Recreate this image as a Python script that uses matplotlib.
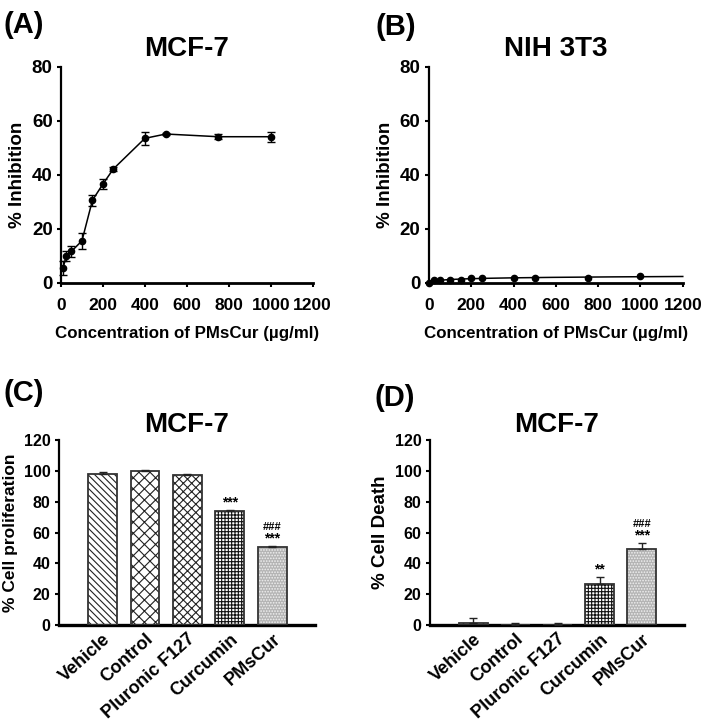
import numpy as np
import matplotlib
matplotlib.use('Agg')
from matplotlib import pyplot as plt

plt.rcParams['font.family'] = ['Liberation Sans', 'DejaVu Sans']
plt.rcParams['font.weight'] = 'bold'
plt.rcParams['hatch.linewidth'] = 0.8

# panel A / B data: dose response
conc_a = [10, 25, 50, 100, 150, 200, 250, 400, 500, 750, 1000]
inhib_a = [5.5, 10.0, 11.7, 15.6, 30.6, 36.6, 42.2, 53.5, 55.1, 54.1, 54.1]
err_a = [2.5, 2.0, 2.0, 3.0, 2.0, 2.0, 0.7, 2.3, 0.5, 1.0, 1.8]

conc_b = [0, 25, 50, 100, 150, 200, 250, 400, 500, 750, 1000]
inhib_b = [0.0, 1.0, 1.0, 1.0, 1.0, 1.7, 1.7, 2.0, 2.0, 2.0, 2.7]

# panel C / D data: treatments
groups = ['Vehicle', 'Control', 'Pluronic F127', 'Curcumin', 'PMsCur']
prolif = [97.8, 100.0, 97.2, 73.8, 50.4]
prolif_err = [1.2, 0.3, 0.5, 0.8, 1.0]
death = [1.5, 0.0, 0.0, 26.5, 49.3]
death_err = [3.3, 1.5, 1.5, 4.6, 3.8]
sig_c = ['', '', '', '***', '***']
sig2_c = ['', '', '', '', '###']
sig_d = ['', '', '', '**', '***']
sig2_d = ['', '', '', '', '###']

hatches = ['\\\\\\\\\\', 'xxx', 'xxxx', '+++++', '......']
faces = ['white', 'white', 'white', 'white', '#b4b4b4']
hcols = ['#222222', '#222222', '#222222', '#111111', '#f0f0f0']

fig = plt.figure(figsize=(7.09, 7.21), dpi=100)


def style(ax, ysize=11.5):
    ax.spines['top'].set_visible(False)
    ax.spines['right'].set_visible(False)
    ax.spines['left'].set_linewidth(1.6)
    ax.spines['bottom'].set_linewidth(2.0)
    ax.tick_params(axis='y', direction='out', length=3, width=1.5, labelsize=ysize, pad=3)
    for t in ax.get_yticklabels():
        t.set_fontweight('bold')


def curve_panel(rect, title):
    ax = fig.add_axes(rect)
    ax.set_xlim(0, 1200)
    ax.set_ylim(0, 80)
    ax.set_xticks(range(0, 1201, 200))
    ax.set_yticks(range(0, 81, 20))
    style(ax, 13.5)
    ax.tick_params(axis='x', direction='out', length=3, width=1.5, labelsize=12.5, pad=8)
    ax.set_title(title, fontsize=20, fontweight='bold', pad=8)
    ax.set_ylabel('% Inhibition', fontsize=13.5, fontweight='bold', labelpad=4)
    ax.set_xlabel('Concentration of PMsCur (\u00b5g/ml)', fontsize=12.2, fontweight='bold', labelpad=9)
    return ax


axA = curve_panel([0.086, 0.6075, 0.355, 0.30], 'MCF-7')
axA.errorbar(conc_a, inhib_a, yerr=err_a, fmt='o-', color='black', ms=4.5, lw=1.1,
             elinewidth=1.0, capsize=3, capthick=1.0, clip_on=False)

axB = curve_panel([0.605, 0.6075, 0.358, 0.30], 'NIH 3T3')
axB.plot(conc_b, inhib_b, 'o', color='black', ms=4.5, clip_on=False)
# logarithmic trend line
a, b = np.polyfit(np.log1p(conc_b[1:]), inhib_b[1:], 1)
xs = np.linspace(0, 1200, 400)
ys = np.clip(a * np.log1p(xs) + b, 0, None)
axB.plot(xs, ys, color='black', lw=1.1, clip_on=False)


def bar_panel(rect, vals, errs, ylabel, s1, s2, ysz):
    ax = fig.add_axes(rect)
    pos = np.arange(len(groups))
    for i in range(len(groups)):
        ax.bar(pos[i], vals[i], width=0.68, color=faces[i], hatch=hatches[i],
               edgecolor=hcols[i], linewidth=0, zorder=2)
    ax.bar(pos, vals, width=0.68, fill=False, edgecolor='#333333', linewidth=1.3, zorder=3)
    ax.errorbar(pos, vals, yerr=[np.zeros(len(errs)), errs], fmt='none', ecolor='#222222',
                elinewidth=1.0, capsize=3, capthick=1.0, zorder=4)
    for i in range(len(groups)):
        top = vals[i] + errs[i]
        if s1[i]:
            ax.annotate(s1[i], (pos[i], top), xytext=(0, 0.5), textcoords='offset points',
                        ha='center', va='bottom', fontsize=10, fontweight='bold')
        if s2[i]:
            ax.annotate(s2[i], (pos[i], top), xytext=(0, 10), textcoords='offset points',
                        ha='center', va='bottom', fontsize=8, fontweight='bold')
    ax.set_xlim(-1.03, 5.0)
    ax.set_ylim(0, 120)
    ax.set_yticks(range(0, 121, 20))
    style(ax, 11.5)
    ax.spines['bottom'].set_linewidth(2.4)
    ax.set_xticks(pos)
    ax.set_xticklabels(groups, rotation=42, ha='right', va='top', rotation_mode='anchor',
                       fontsize=13, fontweight='bold')
    ax.tick_params(axis='x', length=0, pad=4)
    ax.set_title('MCF-7', fontsize=20, fontweight='bold', pad=6)
    ax.set_ylabel(ylabel, fontsize=ysz, fontweight='bold', labelpad=4)
    return ax


axC = bar_panel([0.083, 0.133, 0.361, 0.2566], prolif, prolif_err, '% Cell proliferation',
                sig_c, sig2_c, 12.5)
axD = bar_panel([0.6065, 0.133, 0.358, 0.2566], death, death_err, '% Cell Death',
                sig_d, sig2_d, 13.5)

fig.text(0.005, 0.985, '(A)', fontsize=21, fontweight='bold', va='top')
fig.text(0.530, 0.982, '(B)', fontsize=21, fontweight='bold', va='top')
fig.text(0.005, 0.475, '(C)', fontsize=21, fontweight='bold', va='top')
fig.text(0.528, 0.468, '(D)', fontsize=21, fontweight='bold', va='top')

plt.savefig('out.png', dpi=100)
